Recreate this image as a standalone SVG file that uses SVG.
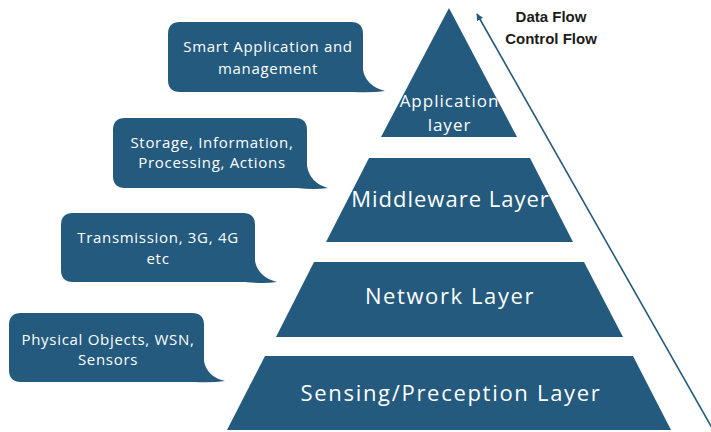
<svg xmlns="http://www.w3.org/2000/svg" width="711" height="432" viewBox="0 0 711 432">
<defs>
<style>
.shape{fill:#235a7d;}
.lbl{fill:#ffffff;font-family:"Open Sans","Noto Sans",sans-serif;text-anchor:middle;}
.call{font-size:15px;letter-spacing:0.7px;}
.lay{font-size:22px;letter-spacing:1.4px;}
.app{font-size:17px;letter-spacing:1px;}
.head{fill:#1c1a17;font-family:"Liberation Sans",Arial,sans-serif;font-weight:bold;font-size:15px;text-anchor:middle;}
.flow{stroke:#235a7d;stroke-width:1.6;fill:none;}
</style>
<marker id="ah" viewBox="0 0 10 10" refX="9" refY="5" markerWidth="7" markerHeight="7" orient="auto-start-reverse" markerUnits="userSpaceOnUse">
<path d="M0,0 L10,5 L0,10 Z" fill="#235a7d"/>
</marker>
</defs>
<rect width="711" height="432" fill="#ffffff"/>

<g id="application-layer">
<path class="shape" d="M449,8 L517,137 L381,137 Z"/>
<text class="lbl app" x="449.5" y="107">Application</text>
<text class="lbl app" x="449.5" y="131">layer</text>
</g>
<g id="middleware-layer">
<path class="shape" d="M369,158 L530,158 L573,242 L326,242 Z"/>
<text class="lbl lay" x="450.5" y="207" style="letter-spacing:1px">Middleware Layer</text>
</g>
<g id="network-layer">
<path class="shape" d="M314,262 L584,262 L623,337 L276,337 Z"/>
<text class="lbl lay" x="450" y="304" style="letter-spacing:1.6px">Network Layer</text>
</g>
<g id="sensing-layer">
<path class="shape" d="M265,356 L633,356 L671,430 L227,430 Z"/>
<text class="lbl lay" x="451" y="401" style="letter-spacing:1.7px">Sensing/Preception Layer</text>
</g>

<g id="callout-smart">
<path class="shape" d="M180,22 H351 Q363,22 363,34 V70 Q366,86 385,91 Q372,93 353,92 H180 Q168,92 168,80 V34 Q168,22 180,22 Z"/>
<text class="lbl call" x="268" y="52">Smart Application and</text>
<text class="lbl call" x="268" y="74">management</text>
</g>
<g id="callout-storage">
<path class="shape" d="M125,118 H295 Q307,118 307,130 V166 Q310,183 328,188 Q315,190 297,188 H125 Q113,188 113,176 V130 Q113,118 125,118 Z"/>
<text class="lbl call" x="212" y="148">Storage, Information,</text>
<text class="lbl call" x="212" y="168">Processing, Actions</text>
</g>
<g id="callout-transmission">
<path class="shape" d="M73,213 H243 Q255,213 255,225 V261 Q258,277 277,282 Q264,284 245,282 H73 Q61,282 61,270 V225 Q61,213 73,213 Z"/>
<text class="lbl call" x="158" y="243">Transmission, 3G, 4G</text>
<text class="lbl call" x="158" y="264">etc</text>
</g>
<g id="callout-physical">
<path class="shape" d="M21,313 H192 Q204,313 204,325 V361 Q207,377 225,381 Q212,383 194,382 H21 Q9,382 9,370 V325 Q9,313 21,313 Z"/>
<text class="lbl call" x="108" y="345">Physical Objects, WSN,</text>
<text class="lbl call" x="108" y="365">Sensors</text>
</g>

<g id="connectors">
<line class="flow" x1="712" y1="428" x2="477" y2="14" marker-end="url(#ah)"/>
</g>
<g id="legend">
<text class="head" x="551" y="22">Data Flow</text>
<text class="head" x="551" y="44">Control Flow</text>
</g>
</svg>
